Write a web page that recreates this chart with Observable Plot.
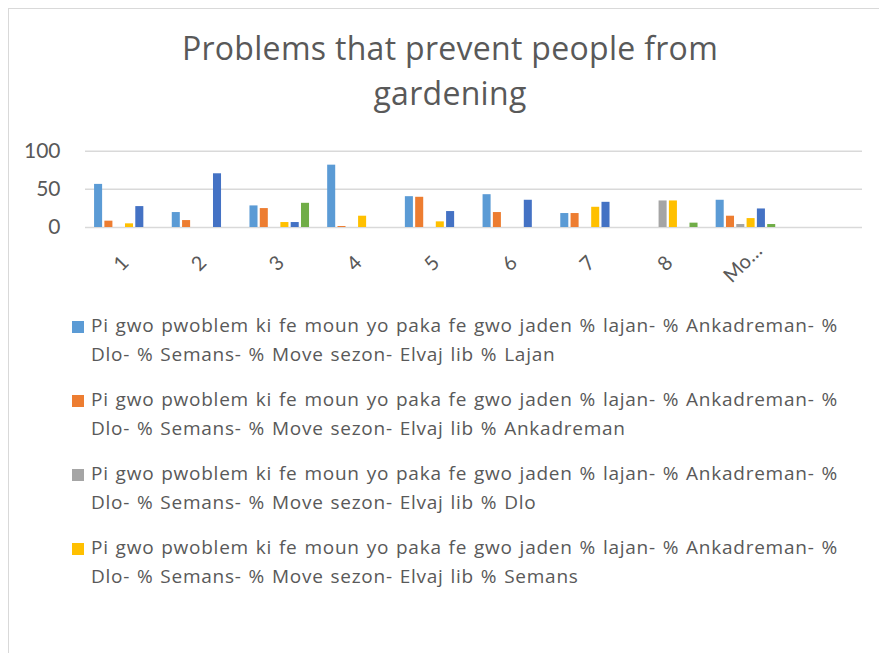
<!DOCTYPE html>
<html>
<head>
<meta charset="utf-8">
<script src="https://cdn.jsdelivr.net/npm/d3@7"></script>
<script src="https://cdn.jsdelivr.net/npm/@observablehq/plot@0.6"></script>
<style>
  html, body { margin: 0; padding: 0; background: #fff; overflow: hidden; }
  body { width: 879px; height: 653px; position: relative; font-family: "Open Sans", Lato, sans-serif; color: #595959; }
  #frame { position: absolute; left: 8px; top: 8px; width: 884px; height: 700px; border: 1px solid #d9d9d9; box-sizing: border-box; }
  #title { position: absolute; left: 8px; width: 884px; top: 25px; text-align: center; font-size: 32px; line-height: 45px; letter-spacing: 0.3px; }
  #grid, #chart { position: absolute; left: 0; top: 130px; }
  #legend { position: absolute; left: 72px; top: 311px; }
  .item { position: relative; height: 58px; margin-bottom: 16px; }
  .sw { position: absolute; left: 0; top: 10px; width: 12px; height: 12px; }
  .lab { position: absolute; left: 19px; top: 0; width: 775px; font-size: 19px; line-height: 29px; letter-spacing: 0.75px; word-spacing: 1.2px; }
</style>
</head>
<body>
<div id="frame"></div>
<div id="title">Problems that prevent people from<br>gardening</div>
<div id="grid"></div>
<div id="chart"></div>
<div id="legend"></div>
<script>
// Categories (x axis); the last, unlabeled slot is empty space in the plot area
const categories = ["1", "2", "3", "4", "5", "6", "7", "8", "Mo…", ""];
// Series
const seriesNames = ["Lajan", "Ankadreman", "Dlo", "Semans", "Move sezon", "Elvaj lib"];
const legendPrefix = "Pi gwo pwoblem ki fe moun yo paka fe gwo jaden % lajan- % Ankadreman- % Dlo- % Semans- % Move sezon- Elvaj lib % ";
const seriesColors = ["#5B9BD5", "#ED7D31", "#A5A5A5", "#FFC000", "#4472C4", "#70AD47"];
// Values per series, in category order 1..8, Mo…
const lajan      = [56.5, 19.6, 28.3, 81.7, 40.4, 43.0, 18.3, 0,    35.7];
const ankadreman = [8.3,  9.1,  24.8, 1.3,  39.6, 19.6, 18.3, 0,    14.8];
const dlo        = [0,    0,    0,    0,    0,    0,    0,    34.8, 3.9];
const semans     = [4.8,  0,    6.5,  14.8, 7.4,  0,    26.5, 34.8, 11.7];
const moveSezon  = [27.4, 70.4, 6.5,  0,    20.9, 35.7, 33.0, 0,    24.3];
const elvajLib   = [0,    0,    31.7, 0,    0,    0,    0,    5.7,  3.9];
const yTicks = [0, 50, 100];
// Legend shows only the first four entries (rest are cut off in the reference)
const legendCount = 4;

const seriesValues = [lajan, ankadreman, dlo, semans, moveSezon, elvajLib];
const rows = [];
seriesNames.forEach((s, si) => {
  seriesValues[si].forEach((v, ci) => {
    if (v > 0) rows.push({cat: categories[ci], series: s, value: v});
  });
});

const layout = {
  width: 879,
  height: 170,
  marginLeft: 85,
  marginRight: 17,
  marginTop: 20.7,
  marginBottom: 73
};

// Gridlines spanning the whole plot area (drawn beneath the faceted bars)
const grid = Plot.plot({
  ...layout,
  style: {background: "transparent"},
  x: {axis: null},
  y: {domain: [0, 100], axis: null},
  marks: [
    Plot.ruleY(yTicks, {stroke: "#d9d9d9", strokeWidth: 1.5})
  ]
});
document.getElementById("grid").appendChild(grid);

const chart = Plot.plot({
  ...layout,
  style: {fontFamily: "Lato, 'Open Sans', sans-serif", color: "#595959", background: "transparent", overflow: "visible"},
  fx: {domain: categories, padding: 0, round: false, label: null},
  x: {domain: seriesNames, paddingInner: 0.22, paddingOuter: 0.88, round: false, axis: null},
  y: {domain: [0, 100], axis: null},
  color: {domain: seriesNames, range: seriesColors},
  marks: [
    Plot.barY(rows, {fx: "cat", x: "series", y: "value", fill: "series"}),
    Plot.axisY(yTicks, {tickSize: 0, tickPadding: 25, fontSize: 21, label: null, fill: "#595959"}),
    Plot.axisFx({anchor: "bottom", tickRotate: -45, textAnchor: "middle", lineAnchor: "middle", tickSize: 0, tickPadding: 36, dx: -3, fontSize: 20, label: null, fill: "#595959"})
  ]
});
document.getElementById("chart").appendChild(chart);

const legend = document.getElementById("legend");
seriesNames.slice(0, legendCount).forEach((s, i) => {
  const item = document.createElement("div");
  item.className = "item";
  const sw = document.createElement("div");
  sw.className = "sw";
  sw.style.background = seriesColors[i];
  const lab = document.createElement("div");
  lab.className = "lab";
  lab.textContent = legendPrefix + s;
  item.appendChild(sw);
  item.appendChild(lab);
  legend.appendChild(item);
});
</script>
</body>
</html>
